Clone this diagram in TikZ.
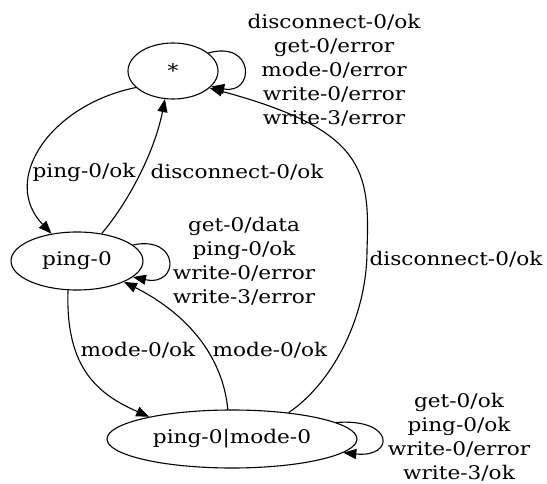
\documentclass[tikz,border=0pt]{standalone}
\usepackage{fontspec}
\setmainfont{DejaVu Serif}[FakeStretch=1.15]
\usetikzlibrary{shapes.geometric,arrows.meta}
\begin{document}
\begin{tikzpicture}[x=1pt,y=-1pt,
  font=\fontsize{18.8}{24}\selectfont,
  state/.style={draw, ellipse, line width=1.1pt, inner sep=0pt},
  edge/.style={draw, line width=1.1pt, -{Triangle[length=13pt,width=10pt]}},
  lbl/.style={align=center, inner sep=0pt}]
\useasboundingbox (0,0) rectangle (547,484);

% states
\node[state, minimum width=90pt, minimum height=56pt]  (s)  at (173,71)  {*};
\node[state, minimum width=132pt, minimum height=58pt] (p)  at (77,261)  {ping-0};
\node[state, minimum width=250pt, minimum height=58pt] (pm) at (232,439) {ping-0\textbar mode-0};

% transitions
\draw[edge] (s.204) .. controls (50,105) and (0,180) .. (p.133);
\draw[edge] (p.48) .. controls (130,200) and (155,150) .. (s.254);
\draw[edge] (s.27) .. controls (255,40) and (255,95) .. (s.338);
\draw[edge] (p.16) .. controls (180,235) and (180,287) .. (p.344);
\draw[edge] (p.253) .. controls (65,370) and (100,395) .. (pm.165);
\draw[edge] (pm.98) .. controls (222,350) and (180,310) .. (p.336);
\coordinate (r) at (367,250);
\draw[edge] (pm.25) .. controls (330,385) and (367,320) .. (r)
                     .. controls (370,170) and (365,130) .. (s.335);
\draw[edge] (pm.9) .. controls (395,418) and (395,458) .. (pm.-7);

% transition labels
\node[lbl] (l1) at (84,172)  {ping-0/ok};
\node[lbl] (l2) at (237,172) {disconnect-0/ok};
\node[lbl] (l3) at (334,70)  {disconnect-0/ok\\get-0/error\\mode-0/error\\write-0/error\\write-3/error};
\node[lbl] (l4) at (244,261) {get-0/data\\ping-0/ok\\write-0/error\\write-3/error};
\node[lbl] (l5) at (138,350) {mode-0/ok};
\node[lbl] (l6) at (270,350) {mode-0/ok};
\node[lbl] (l7) at (456,259) {disconnect-0/ok};
\node[lbl] (l8) at (459,437) {get-0/ok\\ping-0/ok\\write-0/error\\write-3/ok};
\end{tikzpicture}
\end{document}
